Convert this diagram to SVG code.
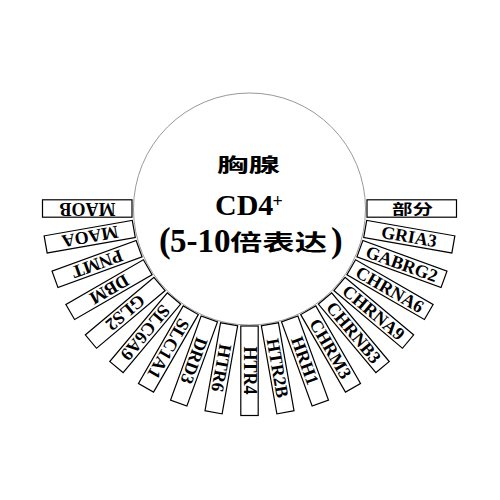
<svg xmlns="http://www.w3.org/2000/svg" width="500" height="500" viewBox="0 0 500 500">
<style>
.box{fill:#fff;stroke:#000;stroke-width:1.2}
.lbl{font-family:"Liberation Serif","Times New Roman",serif;font-weight:bold;font-size:18px;text-anchor:middle;fill:#000}
.cjk{font-family:"Noto Sans CJK SC","Noto Sans",sans-serif;font-weight:bold;fill:#000}
.ser{font-family:"Liberation Serif","Noto Sans CJK SC",serif;font-weight:bold;fill:#000}
</style>
<defs>
<rect id="b" class="box" x="117.5" y="-8.7" width="89.5" height="17.4"/>
</defs>
<rect width="500" height="500" fill="#fff"/>
<g id="center">
<circle cx="249.5" cy="209" r="116" fill="#fff" stroke="#999" stroke-width="1"/>
<text class="cjk" x="217" y="171.5" font-size="19.5" textLength="63" lengthAdjust="spacingAndGlyphs">胸腺</text>
<text class="ser" x="215" y="215" font-size="30">CD4</text>
<text class="ser" x="272.5" y="206.5" font-size="18">+</text>
<text class="ser" x="159" y="252" font-size="35">(</text>
<text class="ser" x="170" y="252" font-size="33">5-10</text>
<text class="cjk" x="230" y="250" font-size="21.5" textLength="97" lengthAdjust="spacingAndGlyphs">倍表达</text>
<text class="ser" x="331" y="252" font-size="35">)</text>
</g>
<g id="n-bufen" transform="translate(249.5,208.5) rotate(0)"><use href="#b"/><text class="cjk" x="142.5" y="5" font-size="14" textLength="41" lengthAdjust="spacingAndGlyphs">部分</text></g>
<g id="n-GRIA3" transform="translate(249.5,208.5) rotate(10)"><use href="#b"/><text class="lbl" x="162" y="6">GRIA3</text></g>
<g id="n-GABRG2" transform="translate(249.5,208.5) rotate(20)"><use href="#b"/><text class="lbl" x="162" y="6">GABRG2</text></g>
<g id="n-CHRNA6" transform="translate(249.5,208.5) rotate(30)"><use href="#b"/><text class="lbl" x="162" y="6">CHRNA6</text></g>
<g id="n-CHRNA9" transform="translate(249.5,208.5) rotate(40)"><use href="#b"/><text class="lbl" x="162" y="6">CHRNA9</text></g>
<g id="n-CHRNB3" transform="translate(249.5,208.5) rotate(50)"><use href="#b"/><text class="lbl" x="162" y="6">CHRNB3</text></g>
<g id="n-CHRM3" transform="translate(249.5,208.5) rotate(60)"><use href="#b"/><text class="lbl" x="162" y="6">CHRM3</text></g>
<g id="n-HRH1" transform="translate(249.5,208.5) rotate(70)"><use href="#b"/><text class="lbl" x="162" y="6">HRH1</text></g>
<g id="n-HTR2B" transform="translate(249.5,208.5) rotate(80)"><use href="#b"/><text class="lbl" x="162" y="6">HTR2B</text></g>
<g id="n-HTR4" transform="translate(249.5,208.5) rotate(90)"><use href="#b"/><text class="lbl" x="162" y="6">HTR4</text></g>
<g id="n-HTR6" transform="translate(249.5,208.5) rotate(100)"><use href="#b"/><text class="lbl" x="162" y="6">HTR6</text></g>
<g id="n-DRD3" transform="translate(249.5,208.5) rotate(110)"><use href="#b"/><text class="lbl" x="162" y="6">DRD3</text></g>
<g id="n-SLC1A1" transform="translate(249.5,208.5) rotate(120)"><use href="#b"/><text class="lbl" x="162" y="6">SLC1A1</text></g>
<g id="n-SLC6A9" transform="translate(249.5,208.5) rotate(130)"><use href="#b"/><text class="lbl" x="162" y="6">SLC6A9</text></g>
<g id="n-GLS2" transform="translate(249.5,208.5) rotate(140)"><use href="#b"/><text class="lbl" x="162" y="6">GLS2</text></g>
<g id="n-DBM" transform="translate(249.5,208.5) rotate(150)"><use href="#b"/><text class="lbl" x="162" y="6">DBM</text></g>
<g id="n-PNMT" transform="translate(249.5,208.5) rotate(160)"><use href="#b"/><text class="lbl" x="162" y="6">PNMT</text></g>
<g id="n-MAOA" transform="translate(249.5,208.5) rotate(170)"><use href="#b"/><text class="lbl" x="162" y="6">MAOA</text></g>
<g id="n-MAOB" transform="translate(249.5,208.5) rotate(180)"><use href="#b"/><text class="lbl" x="162" y="6">MAOB</text></g>
</svg>
